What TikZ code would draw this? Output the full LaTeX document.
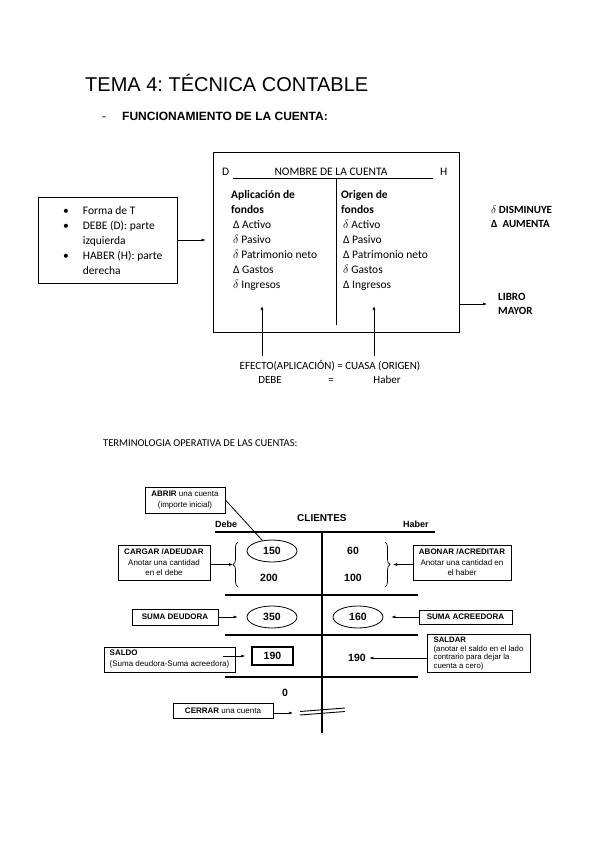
\documentclass[tikz,border=0pt]{standalone}
\usepackage{fontspec}
\setmainfont{Carlito}
\newfontfamily\arial{Liberation Sans}
\usetikzlibrary{arrows.meta,positioning,decorations.pathreplacing,shapes.geometric}
\frenchspacing

\begin{document}
\begin{tikzpicture}
    [x=1pt,y=-1pt,
    caja/.style={rectangle, draw=black, line width=.7pt, inner sep=0pt},
    nota/.style={rectangle, draw=black, line width=.9pt, align=center, inner sep=0pt, font=\arial\fontsize{8}{10.5}\selectfont},
    cifra/.style={font=\arial\bfseries\fontsize{10.5}{12}\selectfont},
    ovalo/.style={ellipse, draw=black, line width=.8pt, minimum width=50pt, minimum height=22pt, inner sep=0pt},
    texto/.style={anchor=base west, inner sep=0pt, font=\fontsize{11.5}{15}\selectfont},
    flecha/.style={-{Latex[length=4pt,width=3pt]}, line width=.6pt},
    raya/.style={line width=1.6pt}]
    \useasboundingbox (0,0) rectangle (599,848);

    \node (titulo) [anchor=base west, inner sep=0pt, font=\arial\fontsize{20}{24}\selectfont] at (85,92) {TEMA 4: TÉCNICA CONTABLE};
    \node (guion) [anchor=base west, inner sep=0pt, font=\arial\fontsize{12}{14}\selectfont] at (102,121) {-};
    \node (funcionamiento) [anchor=base west, inner sep=0pt, font=\arial\bfseries\fontsize{12}{14}\selectfont] at (122,121) {FUNCIONAMIENTO DE LA CUENTA:};

    % cuenta en forma de T
    \node (rasgos) [caja, minimum width=139pt, minimum height=86pt] at (107.5,240) {};
    \node (rasgos-txt) [texto] at (63,214.5) {\begin{tabular}[t]{@{}l@{\hspace{14pt}}l@{}}
      \textbullet & Forma de T\\
      \textbullet & DEBE (D): parte\\
                  & izquierda\\
      \textbullet & HABER (H): parte\\
                  & derecha
    \end{tabular}};

    \node (cuenta) [caja, minimum width=246pt, minimum height=180pt] at (336,242) {};
    \draw[flecha] (rasgos) -- ([xshift=-7pt]cuenta.west |- rasgos.east);

    \node (d) [texto] at (222,175.5) {D};
    \node (nombre) [anchor=base, inner sep=0pt, font=\fontsize{11.5}{15}\selectfont] at (331,175.5) {NOMBRE DE LA CUENTA};
    \node (h) [texto] at (440,175.5) {H};
    \draw[line width=.7pt] (233,178) -- (433,178);
    \draw[line width=.7pt] (336,178) -- (336,325);

    \node (aplicacion) [texto] at (231,198.5) {\begin{tabular}[t]{@{}l@{}}
      \textbf{Aplicación de}\\
      \textbf{fondos}\\
      \,Δ Activo\\
      \,$\delta$ Pasivo\\
      \,$\delta$ Patrimonio neto\\
      \,Δ Gastos\\
      \,$\delta$ Ingresos
    \end{tabular}};
    \node (origen) [texto] at (341,198.5) {\begin{tabular}[t]{@{}l@{}}
      \textbf{Origen de}\\
      \textbf{fondos}\\
      \,$\delta$ Activo\\
      \,Δ Pasivo\\
      \,Δ Patrimonio neto\\
      \,$\delta$ Gastos\\
      \,Δ Ingresos
    \end{tabular}};

    \node (leyenda) [texto, font=\bfseries\fontsize{11}{14}\selectfont] at (491,213.5) {\begin{tabular}[t]{@{}l@{}}
      $\delta$ DISMINUYE\\
      Δ\ \ AUMENTA
    \end{tabular}};

    \node (libro) [texto, font=\bfseries\fontsize{11}{13.5}\selectfont] at (498,300.5) {\begin{tabular}[t]{@{}l@{}}
      LIBRO\\
      MAYOR
    \end{tabular}};
    \coordinate (libro-in) at (487,304);
    \draw[flecha] (cuenta.east |- libro-in) -- (libro-in);

    \node (efecto) [anchor=base, font=\fontsize{11}{14}\selectfont] at (330,369) {EFECTO(APLICACIÓN) = CUASA (ORIGEN)};
    \node (debe) [anchor=base, inner sep=0pt, font=\fontsize{11}{14}\selectfont] at (270,383.5) {DEBE};
    \node (igual) [anchor=base, inner sep=0pt, font=\fontsize{11}{14}\selectfont] at (331,383.5) {=};
    \node (haber) [anchor=base, inner sep=0pt, font=\fontsize{11}{14}\selectfont] at (387,383.5) {Haber};
    \coordinate (tip-debe) at (262,306);
    \coordinate (tip-haber) at (374,306);
    \draw[flecha] (efecto.north -| tip-debe) -- (tip-debe);
    \draw[flecha] (efecto.north -| tip-haber) -- (tip-haber);

    % terminologia
    \node (terminologia) [anchor=base west, inner sep=0pt, font=\fontsize{10.5}{13}\selectfont] at (103,446.5) {TERMINOLOGIA OPERATIVA DE LAS CUENTAS:};

    \node (clientes) [anchor=base west, inner sep=0pt, font=\arial\bfseries\fontsize{10}{12}\selectfont] at (297,521.5) {CLIENTES};
    \node (debe-t) [anchor=base west, inner sep=0pt, font=\arial\bfseries\fontsize{9}{11}\selectfont] at (215,527.5) {Debe};
    \node (haber-t) [anchor=base west, inner sep=0pt, font=\arial\bfseries\fontsize{9}{11}\selectfont] at (403,527.5) {Haber};
    \draw[raya] (215,532) -- (435,532);
    \draw[raya] (322,532) -- (322,733);
    \draw[line width=1.3pt] (225,595) -- (418,595);
    \draw[line width=1.3pt] (225,635) -- (418,635);
    \draw[line width=1.3pt] (225,677) -- (418,677);

    \node (uno-cincuenta) [ovalo, cifra] at (272,551) {150};
    \node (dos-cientos) [cifra] at (269,578) {200};
    \node (sesenta) [cifra] at (353,551) {60};
    \node (cien) [cifra] at (353,578) {100};
    \node (tres-cincuenta) [ovalo, cifra] at (272,617) {350};
    \node (uno-sesenta) [ovalo, cifra] at (358,617) {160};
    \node (caja-190) [rectangle, draw=black, line width=1.5pt, minimum width=41pt, minimum height=18pt, inner sep=0pt, cifra] at (272.5,656) {190};
    \node (saldo-190) [cifra] at (357,658) {190};
    \node (cero) [cifra] at (285,693) {0};

    \draw[line width=.7pt, decorate, decoration={brace, amplitude=5pt}] (238,587) -- (238,542);
    \draw[line width=.7pt, decorate, decoration={brace, amplitude=5pt}] (385,542) -- (385,587);
    \coordinate (llave-debe) at (233,564.5);
    \coordinate (llave-haber) at (393,564.5);

    \node (abrir) [nota, minimum width=80pt, minimum height=26pt, font=\arial\fontsize{8}{11}\selectfont] at (185,500) {\textbf{ABRIR} una cuenta\\(importe inicial)};
    \draw[line width=.8pt] (abrir.east) -- (uno-cincuenta);

    \node (cargar) [nota, minimum width=92pt, minimum height=35pt] at (164,562.5) {\textbf{CARGAR /ADEUDAR}\\Anotar una cantidad\\en el debe};
    \draw[flecha] (cargar.east |- llave-debe) -- (llave-debe);
    \node (abonar) [nota, minimum width=98pt, minimum height=35pt] at (462,562.5) {\textbf{ABONAR /ACREDITAR}\\Anotar una cantidad en\\el haber};
    \draw[flecha] (abonar.west |- llave-haber) -- (llave-haber);

    \node (suma-deudora) [nota, minimum width=86pt, minimum height=16pt] at (175,617) {\textbf{SUMA DEUDORA}};
    \draw[flecha, shorten >=9pt] (suma-deudora) -- (tres-cincuenta);
    \node (suma-acreedora) [nota, minimum width=93pt, minimum height=14pt] at (465.5,617) {\textbf{SUMA ACREEDORA}};
    \draw[flecha, shorten >=8pt] (suma-acreedora) -- (uno-sesenta);

    \node (saldo) [nota, align=left, minimum width=131pt, minimum height=25pt, font=\arial\fontsize{8}{11}\selectfont] at (169.5,659.5) {\textbf{SALDO}\\(Suma deudora-Suma acreedora)};
    \draw[flecha, shorten >=6pt] ([xshift=-12pt]saldo.east |- caja-190.west) -- (caja-190.west);

    \node (saldar) [nota, align=left, minimum width=103pt, minimum height=38pt, font=\arial\fontsize{7.8}{8.4}\selectfont] at (478.5,653.5) {\textbf{SALDAR}\\(anotar el saldo en el lado\\contrario para dejar la\\cuenta a cero)};
    \draw[flecha] (saldar.west |- saldo-190) -- (saldo-190.east);

    \node (cerrar) [nota, minimum width=100pt, minimum height=15pt] at (223,710.5) {\textbf{CERRAR} una cuenta};
    \coordinate (cierre) at (293,713);
    \draw[flecha] (cerrar.east |- cierre) -- (cierre);
    \draw[line width=.9pt] (300,711.5) -- (345,708);
    \draw[line width=.9pt] (300,715) -- (345,711.5);

\end{tikzpicture}
\end{document}
